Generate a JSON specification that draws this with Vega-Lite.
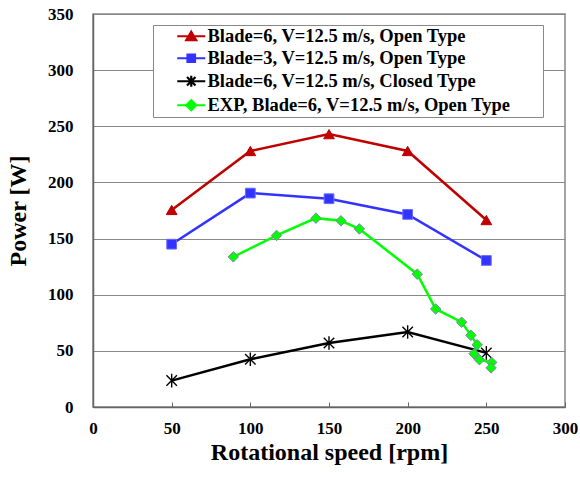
{
  "$schema": "https://vega.github.io/schema/vega-lite/v6.json",
  "width": 472,
  "height": 393,
  "autosize": {"type": "none"},
  "padding": {"left": 93, "top": 14, "right": 15, "bottom": 70},
  "background": "white",
  "config": {
    "font": "Liberation Serif",
    "view": {"stroke": "#888888", "strokeWidth": 1.5},
    "axis": {"labelFont": "Liberation Serif", "titleFont": "Liberation Serif", "labelFontWeight": "bold", "titleFontWeight": "bold", "labelColor": "black", "titleColor": "black", "domainColor": "#666666", "domainWidth": 1.5, "labelFlush": false}
  },
  "data": {
    "values": [
      {"series": "Blade=6, V=12.5 m/s, Open Type", "ord": 1, "rpm": 50, "power": 175.5},
      {"series": "Blade=6, V=12.5 m/s, Open Type", "ord": 2, "rpm": 100, "power": 228},
      {"series": "Blade=6, V=12.5 m/s, Open Type", "ord": 3, "rpm": 150, "power": 243},
      {"series": "Blade=6, V=12.5 m/s, Open Type", "ord": 4, "rpm": 200, "power": 228},
      {"series": "Blade=6, V=12.5 m/s, Open Type", "ord": 5, "rpm": 250, "power": 166.5},
      {"series": "Blade=3, V=12.5 m/s, Open Type", "ord": 1, "rpm": 50, "power": 145},
      {"series": "Blade=3, V=12.5 m/s, Open Type", "ord": 2, "rpm": 100, "power": 190.5},
      {"series": "Blade=3, V=12.5 m/s, Open Type", "ord": 3, "rpm": 150, "power": 185.5},
      {"series": "Blade=3, V=12.5 m/s, Open Type", "ord": 4, "rpm": 200, "power": 171.5},
      {"series": "Blade=3, V=12.5 m/s, Open Type", "ord": 5, "rpm": 250, "power": 130.5},
      {"series": "Blade=6, V=12.5 m/s, Closed Type", "ord": 1, "rpm": 50, "power": 23.5},
      {"series": "Blade=6, V=12.5 m/s, Closed Type", "ord": 2, "rpm": 100, "power": 42.5},
      {"series": "Blade=6, V=12.5 m/s, Closed Type", "ord": 3, "rpm": 150, "power": 57},
      {"series": "Blade=6, V=12.5 m/s, Closed Type", "ord": 4, "rpm": 200, "power": 66.8},
      {"series": "Blade=6, V=12.5 m/s, Closed Type", "ord": 5, "rpm": 250, "power": 48.2},
      {"series": "EXP, Blade=6, V=12.5 m/s, Open Type", "ord": 1, "rpm": 89.2, "power": 133.7},
      {"series": "EXP, Blade=6, V=12.5 m/s, Open Type", "ord": 2, "rpm": 116.7, "power": 152.8},
      {"series": "EXP, Blade=6, V=12.5 m/s, Open Type", "ord": 3, "rpm": 141.7, "power": 168.2},
      {"series": "EXP, Blade=6, V=12.5 m/s, Open Type", "ord": 4, "rpm": 157.6, "power": 165.8},
      {"series": "EXP, Blade=6, V=12.5 m/s, Open Type", "ord": 5, "rpm": 169.3, "power": 158.6},
      {"series": "EXP, Blade=6, V=12.5 m/s, Open Type", "ord": 6, "rpm": 206.1, "power": 118.3},
      {"series": "EXP, Blade=6, V=12.5 m/s, Open Type", "ord": 7, "rpm": 217.8, "power": 87.3},
      {"series": "EXP, Blade=6, V=12.5 m/s, Open Type", "ord": 8, "rpm": 234.3, "power": 75.5},
      {"series": "EXP, Blade=6, V=12.5 m/s, Open Type", "ord": 9, "rpm": 240.2, "power": 63.8},
      {"series": "EXP, Blade=6, V=12.5 m/s, Open Type", "ord": 10, "rpm": 244.2, "power": 55.4},
      {"series": "EXP, Blade=6, V=12.5 m/s, Open Type", "ord": 11, "rpm": 242.2, "power": 47.4},
      {"series": "EXP, Blade=6, V=12.5 m/s, Open Type", "ord": 12, "rpm": 245.6, "power": 42.1},
      {"series": "EXP, Blade=6, V=12.5 m/s, Open Type", "ord": 13, "rpm": 253.4, "power": 39.7},
      {"series": "EXP, Blade=6, V=12.5 m/s, Open Type", "ord": 14, "rpm": 253.0, "power": 34.8}
    ]
  },
  "encoding": {
    "x": {"field": "rpm", "type": "quantitative", "scale": {"domain": [0, 300], "nice": false},
      "axis": {"values": [0, 50, 100, 150, 200, 250, 300], "grid": false, "tickSize": -5, "tickColor": "#666666", "tickWidth": 1, "labelFontSize": 17, "labelPadding": 18, "title": "Rotational speed [rpm]", "titleFontSize": 24, "titlePadding": 4}},
    "y": {"field": "power", "type": "quantitative", "scale": {"domain": [0, 350], "nice": false},
      "axis": {"values": [0, 50, 100, 150, 200, 250, 300, 350], "grid": true, "gridColor": "#888888", "gridWidth": 1.2, "ticks": false, "labelFontSize": 17, "labelPadding": 20, "title": "Power [W]", "titleFontSize": 24, "titlePadding": 17}}
  },
  "layer": [
    {
      "mark": {"type": "line", "strokeWidth": 2.5},
      "encoding": {
        "color": {"field": "series", "type": "nominal",
          "scale": {"domain": ["Blade=6, V=12.5 m/s, Open Type", "Blade=3, V=12.5 m/s, Open Type", "Blade=6, V=12.5 m/s, Closed Type", "EXP, Blade=6, V=12.5 m/s, Open Type"], "range": ["#c00000", "#3333ff", "#000000", "#00ff00"]}},
        "order": {"field": "ord", "type": "quantitative"}
      }
    },
    {
      "transform": [{"filter": "datum.series === 'Blade=6, V=12.5 m/s, Open Type'"}],
      "mark": {"type": "point", "filled": true, "opacity": 1, "shape": "triangle-up", "fill": "#c00000", "stroke": "#c00000", "strokeWidth": 1, "size": 115}
    },
    {
      "transform": [{"filter": "datum.series === 'Blade=3, V=12.5 m/s, Open Type'"}],
      "mark": {"type": "point", "filled": true, "opacity": 1, "shape": "square", "fill": "#3333ff", "stroke": "#6a6aff", "strokeWidth": 1, "size": 95}
    },
    {
      "transform": [{"filter": "datum.series === 'Blade=6, V=12.5 m/s, Closed Type'"}],
      "mark": {"type": "point", "filled": false, "opacity": 1, "shape": "M-1,-1L1,1M-1,1L1,-1M0,-1.3V1.3", "stroke": "#000000", "strokeWidth": 1.4, "size": 110}
    },
    {
      "transform": [{"filter": "datum.series === 'EXP, Blade=6, V=12.5 m/s, Open Type'"}],
      "mark": {"type": "point", "filled": true, "opacity": 1, "shape": "diamond", "fill": "#00ff00", "stroke": "#8a7fb5", "strokeWidth": 1, "size": 110}
    },
    {
      "mark": {"type": "point", "filled": true, "opacity": 0},
      "encoding": {
        "color": {"field": "series", "type": "nominal",
          "legend": {"orient": "none", "legendX": 60, "legendY": 11, "title": " ", "titleOrient": "right", "titlePadding": 30, "titleFontSize": 4, "fillColor": "white", "strokeColor": "#888888", "padding": 2,
            "labelFont": "Liberation Serif", "labelFontWeight": "bold", "labelFontSize": 18.5, "labelColor": "black", "labelLimit": 400,
            "symbolSize": 100, "symbolOffset": 27, "labelOffset": 7, "rowPadding": 3, "symbolOpacity": 1, "symbolStrokeWidth": 2.2,
            "encode": {"symbols": {"update": {"stroke": {"scale": "color", "field": "value"}, "opacity": {"value": 1}}}}}},
        "shape": {"field": "series", "type": "nominal",
          "scale": {"domain": ["Blade=6, V=12.5 m/s, Open Type", "Blade=3, V=12.5 m/s, Open Type", "Blade=6, V=12.5 m/s, Closed Type", "EXP, Blade=6, V=12.5 m/s, Open Type"], "range": ["M-2.8,0H2.8M0,-0.9L1,0.8H-1Z", "M-2.8,0H2.8M-0.75,-0.75H0.75V0.75H-0.75Z", "M-2.8,0H2.8M-0.85,-0.85L0.85,0.85M-0.85,0.85L0.85,-0.85M0,-1.1V1.1", "M-2.8,0H2.8M0,-1L1,0L0,1L-1,0Z"]},
          "legend": {"orient": "none", "legendX": 60, "legendY": 11, "title": " ", "titleOrient": "right", "titlePadding": 30, "titleFontSize": 4, "fillColor": "white", "strokeColor": "#888888", "padding": 2,
            "labelFont": "Liberation Serif", "labelFontWeight": "bold", "labelFontSize": 18.5, "labelColor": "black", "labelLimit": 400,
            "symbolSize": 100, "symbolOffset": 27, "labelOffset": 7, "rowPadding": 3, "symbolOpacity": 1, "symbolStrokeWidth": 2.2}}
      }
    }
  ]
}
